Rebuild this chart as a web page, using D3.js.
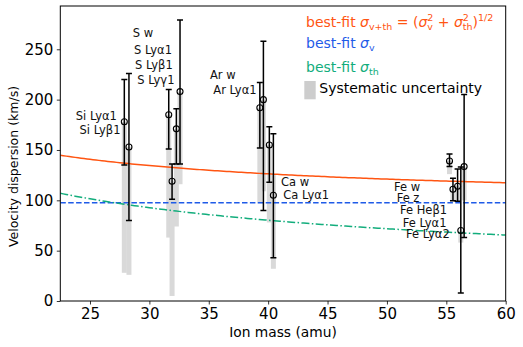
<!DOCTYPE html>
<html>
<head>
<meta charset="utf-8">
<script src="https://cdn.jsdelivr.net/npm/d3@7"></script>
<style>
body { margin: 0; background: #fff; }
text { font-family: "DejaVu Sans", sans-serif; }
</style>
</head>
<body>
<script>
// measured lines (one bar per line, slightly offset in mass)
var masses   = [27.89, 28.28, 31.63, 31.91, 32.27, 32.58, 39.30, 39.60, 40.10, 40.44, 55.27, 55.56, 55.95, 56.22, 56.50];
var values   = [178, 153, 185, 119, 171, 208, 192, 200, 155, 105, 139, 111, 114, 70, 133.5];
var errLow   = [135, 80, 151, 101, 136, 136, 152, 90, 118, 43, 133.5, 99.5, 99, 8, 63];
var errHigh  = [220, 226, 210, 136, 191, 279, 217, 258, 173, 166, 146, 122, 131, 133, 205];
var sysTop   = [178, 153, 185, 119, 171, 208, 192, 200, 155, 125, 139, 111, 114, 70, 133.5];
var sysBottom= [28, 26, 63, 5, 74, 116, 97, 109, 78, 32, 126, 100, 99, 58, 100];

// line labels, anchored in data coordinates
var labelText = ["Si Ly\u03b11", "Si Ly\u03b21", "S w", "S Ly\u03b11", "S Ly\u03b21", "S Ly\u03b31",
                 "Ar w", "Ar Ly\u03b11", "Ca w", "Ca Ly\u03b11",
                 "Fe w", "Fe z", "Fe He\u03b21", "Fe Ly\u03b11", "Fe Ly\u03b12"];
var labelMass = [23.80, 24.12, 28.60, 28.70, 28.79, 28.98, 35.10, 35.38, 41.08, 41.28, 50.60, 50.82, 51.10, 51.33, 51.60];
var labelVal  = [183.8, 169.9, 265.9, 249.3, 234.4, 219.5, 224.5, 209.6, 118.5, 105.3, 113.5, 102.0, 90.4, 77.8, 66.5];

// best-fit parameters
var sigmaV = 97.5;       // km/s
var thermalCoef = 507.5; // sigma_th = thermalCoef / sqrt(mass)

var xTicks = [25, 30, 35, 40, 45, 50, 55, 60];
var yTicks = [0, 50, 100, 150, 200, 250];

var W = 523, H = 347;
var padL = 60.3, padR = 505.7, padT = 6, padB = 301;

var svg = d3.select("body").append("svg").attr("width", W).attr("height", H);

var x = d3.scaleLinear().domain([22.5, 60]).range([padL, padR]);
var y = d3.scaleLinear().domain([0, 293]).range([padB, padT]);

var orange = "#ff5512", blue = "#1f5be8", green = "#12ad7c";

var plot = svg.append("g");
plot.append("clipPath").attr("id", "clip").append("rect")
    .attr("x", padL).attr("y", padT).attr("width", padR - padL).attr("height", padB - padT);
var inner = plot.append("g").attr("clip-path", "url(#clip)");

// systematic uncertainty bands
inner.selectAll("rect.sys").data(masses).enter().append("rect")
    .attr("class", "sys")
    .attr("x", function(d){ return x(d) - 2.5; })
    .attr("width", 5)
    .attr("y", function(d, i){ return y(sysTop[i]); })
    .attr("height", function(d, i){ return y(sysBottom[i]) - y(sysTop[i]); })
    .attr("fill", "#d9d9d9");

// fit curves
var mGrid = d3.range(22.5, 60.01, 0.25);
function sTh(m){ return thermalCoef / Math.sqrt(m); }

inner.append("path")
    .attr("d", d3.line().x(function(m){ return x(m); }).y(function(m){ return y(Math.sqrt(sigmaV * sigmaV + sTh(m) * sTh(m))); })(mGrid))
    .attr("fill", "none").attr("stroke", orange).attr("stroke-width", 1.5);
inner.append("path")
    .attr("d", d3.line().x(function(m){ return x(m); }).y(function(){ return y(sigmaV); })(mGrid))
    .attr("fill", "none").attr("stroke", blue).attr("stroke-width", 1.5)
    .attr("stroke-dasharray", "5.5,2.4");
inner.append("path")
    .attr("d", d3.line().x(function(m){ return x(m); }).y(function(m){ return y(sTh(m)); })(mGrid))
    .attr("fill", "none").attr("stroke", green).attr("stroke-width", 1.5)
    .attr("stroke-dasharray", "8,2.4,1.5,2.4");

// error bars
var bars = inner.selectAll("g.bar").data(masses).enter().append("g").attr("class", "bar");
bars.append("line")
    .attr("x1", function(d){ return x(d); }).attr("x2", function(d){ return x(d); })
    .attr("y1", function(d, i){ return y(errLow[i]); })
    .attr("y2", function(d, i){ return y(errHigh[i]); })
    .attr("stroke", "#000").attr("stroke-width", 1.5);
[errLow, errHigh].forEach(function(arr){
    bars.append("line")
        .attr("x1", function(d){ return x(d) - 3; }).attr("x2", function(d){ return x(d) + 3; })
        .attr("y1", function(d, i){ return y(arr[i]); })
        .attr("y2", function(d, i){ return y(arr[i]); })
        .attr("stroke", "#000").attr("stroke-width", 1.5);
});
bars.append("circle")
    .attr("cx", function(d){ return x(d); })
    .attr("cy", function(d, i){ return y(values[i]); })
    .attr("r", 3)
    .attr("fill", "none").attr("stroke", "#000").attr("stroke-width", 1.1);

// line labels
plot.selectAll("text.lab").data(labelText).enter().append("text")
    .attr("class", "lab")
    .attr("x", function(d, i){ return x(labelMass[i]); })
    .attr("y", function(d, i){ return y(labelVal[i]); })
    .attr("dy", "0.35em")
    .attr("font-size", 11.5)
    .attr("fill", "#111")
    .text(function(d){ return d; });

// axes
var xAxis = d3.axisBottom(x).tickValues(xTicks).tickSize(3.5).tickPadding(3.5);
var yAxis = d3.axisLeft(y).tickValues(yTicks).tickSize(3.5).tickPadding(3.5);
var gx = svg.append("g").attr("transform", "translate(0," + padB + ")").call(xAxis);
var gy = svg.append("g").attr("transform", "translate(" + padL + ",0)").call(yAxis);
[gx, gy].forEach(function(g){
    g.select(".domain").remove();
    g.selectAll("text").attr("font-size", 15).attr("font-family", "DejaVu Sans").attr("fill", "#000");
    g.selectAll("line").attr("stroke", "#000").attr("stroke-width", 0.8);
});

svg.append("rect")
    .attr("x", padL).attr("y", padT).attr("width", padR - padL).attr("height", padB - padT)
    .attr("fill", "none").attr("stroke", "#000").attr("stroke-width", 1);

svg.append("text")
    .attr("x", (padL + padR) / 2).attr("y", 337)
    .attr("text-anchor", "middle").attr("font-size", 13.8)
    .text("Ion mass (amu)");
svg.append("text")
    .attr("transform", "translate(18," + ((padT + padB) / 2 + 13) + ") rotate(-90)")
    .attr("text-anchor", "middle").attr("font-size", 12.5)
    .text("Velocity dispersion (km/s)");

// legend
var leg = svg.append("g");
function mathLine(x0, yb, parts, color){
    var cx = x0, prevStart = x0, prevW = 0;
    parts.forEach(function(p){
        var px = p.stack ? prevStart : cx;
        var t = leg.append("text")
            .attr("x", px).attr("y", yb + (p.shift || 0))
            .attr("font-size", p.size || 14)
            .style("font-style", p.italic ? "italic" : "normal")
            .attr("fill", color)
            .text(p.t);
        var w = t.node().getComputedTextLength();
        if (p.stack) { cx = prevStart + Math.max(prevW, w); }
        else { prevStart = cx; prevW = w; cx += w; }
    });
}
var nb = "\u00a0";
mathLine(306, 26.5, [
    {t: "best-fit" + nb},
    {t: "\u03c3", italic: true},
    {t: "v+th", size: 9.5, shift: 3},
    {t: nb + "=" + nb + "("},
    {t: "\u03c3", italic: true},
    {t: "v", size: 9.5, shift: 3},
    {t: "2", size: 9.5, shift: -6, stack: true},
    {t: nb + "+" + nb},
    {t: "\u03c3", italic: true},
    {t: "th", size: 9.5, shift: 3},
    {t: "2", size: 9.5, shift: -6, stack: true},
    {t: ")"},
    {t: "1/2", size: 9.5, shift: -6}
], orange);
mathLine(306, 48, [
    {t: "best-fit" + nb},
    {t: "\u03c3", italic: true},
    {t: "v", size: 9.5, shift: 3}
], blue);
mathLine(306, 71.5, [
    {t: "best-fit" + nb},
    {t: "\u03c3", italic: true},
    {t: "th", size: 9.5, shift: 3}
], green);
leg.append("rect").attr("x", 304.3).attr("y", 81).attr("width", 11.4).attr("height", 18.3).attr("fill", "#cdcdcd");
leg.append("text").attr("x", 319.3).attr("y", 93.3).attr("font-size", 14).attr("fill", "#000").text("Systematic uncertainty");
</script>
</body>
</html>
